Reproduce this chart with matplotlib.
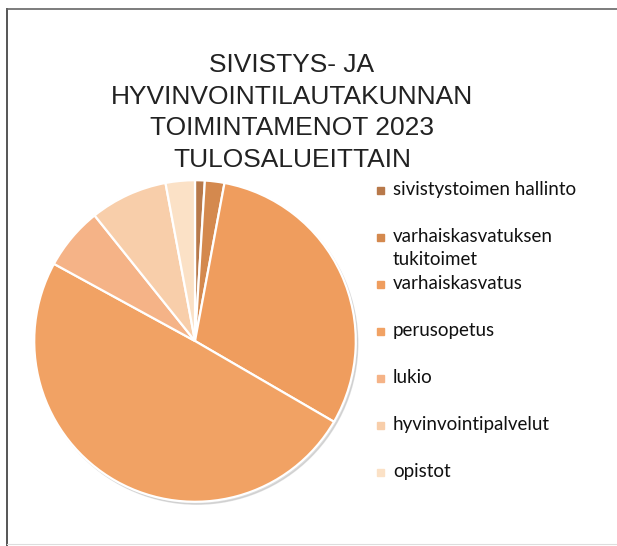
import matplotlib
matplotlib.use("Agg")
import matplotlib.pyplot as plt
from matplotlib.patches import Rectangle, Circle
from matplotlib.lines import Line2D

title_lines = ["SIVISTYS- JA", "HYVINVOINTILAUTAKUNNAN", "TOIMINTAMENOT 2023", "TULOSALUEITTAIN"]
categories = ["sivistystoimen hallinto", "varhaiskasvatuksen\ntukitoimet", "varhaiskasvatus",
              "perusopetus", "lukio", "hyvinvointipalvelut", "opistot"]
values = [0.98, 1.96, 30.45, 49.6, 6.3, 7.8, 2.94]
colors = ["#B8794A", "#D4894E", "#EF9D5E", "#F1A264", "#F5B387", "#F8CEAA", "#FBE1C6"]

W, H = 617, 546
fig = plt.figure(figsize=(W / 100, H / 100), dpi=100)
fig.patch.set_facecolor("white")

def fx(x):
    return x / W

def fy(y):
    return 1 - y / H

# scanned frame
fig.add_artist(Line2D([fx(7), fx(7)], [fy(9), fy(546)], color="#555555", lw=1.4, transform=fig.transFigure))
fig.add_artist(Line2D([fx(7), fx(617)], [fy(9), fy(9)], color="#666666", lw=1.2, transform=fig.transFigure))
fig.add_artist(Line2D([fx(7), fx(617)], [fy(544), fy(544)], color="#dddddd", lw=0.8, transform=fig.transFigure))

# pie
cx, cy, r = 195, 341, 164
ax = fig.add_axes([fx(cx - r), fy(cy + r), 2 * r / W, 2 * r / H])
ax.add_patch(Circle((0.012, -0.015), 1.0, color="#bbbbbb", alpha=0.5, zorder=0))
ax.pie(values, colors=colors, startangle=90, counterclock=False, radius=1.0,
       wedgeprops=dict(edgecolor="white", linewidth=1.6))
ax.set_xlim(-1.02, 1.02)
ax.set_ylim(-1.02, 1.02)
ax.set_aspect("equal")
ax.axis("off")

# title
title_baselines = [72, 104, 135, 167]
for line, yb in zip(title_lines, title_baselines):
    fig.text(fx(292), fy(yb), line, ha="center", va="baseline",
             fontsize=19, family="Liberation Sans", color="#222222")

# legend
leg_y0, leg_dy, line_dy = 190, 47, 23
for i, (lab, col) in enumerate(zip(categories, colors)):
    yc = leg_y0 + i * leg_dy
    fig.add_artist(Rectangle((fx(377), fy(yc + 3.5)), 7 / W, 7 / H, color=col,
                             transform=fig.transFigure))
    for j, part in enumerate(lab.split("\n")):
        fig.text(fx(393), fy(yc + 5 + j * line_dy), part, ha="left", va="baseline",
                 fontsize=13.5, family="Lato", color="#111111")

fig.savefig("out.png", dpi=100, facecolor="white")
